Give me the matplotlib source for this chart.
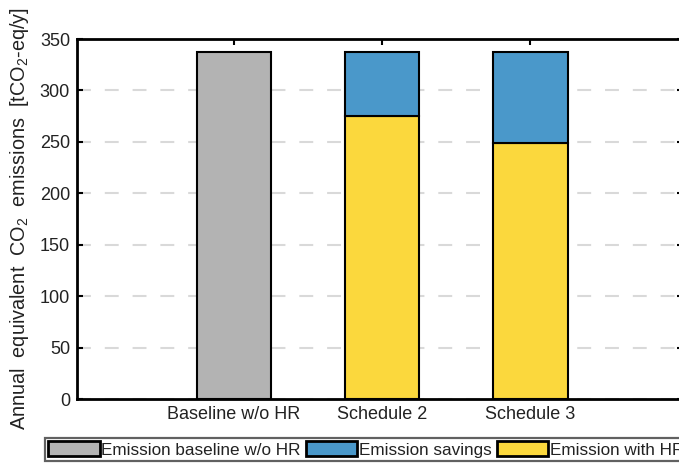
import matplotlib
matplotlib.use("Agg")
import matplotlib.pyplot as plt
from matplotlib.patches import Patch

plt.rcParams['font.family'] = ['Liberation Sans', 'DejaVu Sans']
plt.rcParams['mathtext.fontset'] = 'custom'
plt.rcParams['mathtext.rm'] = 'Liberation Sans'
plt.rcParams['mathtext.it'] = 'Liberation Sans:italic'
plt.rcParams['mathtext.bf'] = 'Liberation Sans:bold'

# Data (tCO2-eq/y)
categories = ["Baseline w/o HR", "Schedule 2", "Schedule 3"]
baseline = [337, 337, 337]
with_hr = [None, 275, 249]
savings = [None, 337 - 275, 337 - 249]
legend_labels = ["Emission baseline w/o HR", "Emission savings", "Emission with HR"]
y_ticks = [0, 50, 100, 150, 200, 250, 300, 350]

c_gray = "#b3b3b3"
c_blue = "#4a98ca"
c_yellow = "#fbd83d"

fig = plt.figure(figsize=(6.79, 4.63), dpi=100)
ax = fig.add_axes([77 / 679, 64 / 463, (683 - 77) / 679, 360 / 463])

x = [1, 2, 3]
w = 0.5
bar_kw = dict(width=w, edgecolor="black", linewidth=1.5, zorder=3)

ax.bar(x[0], baseline[0], color=c_gray, **bar_kw)
for i in (1, 2):
    ax.bar(x[i], with_hr[i], color=c_yellow, **bar_kw)
    ax.bar(x[i], savings[i], bottom=with_hr[i], color=c_blue, **bar_kw)

ax.set_xlim(1 - 1.059, 3 + 1.029)
ax.set_ylim(0, 350)
ax.set_yticks(y_ticks)
ax.set_xticks(x)
ax.set_xticklabels(categories)

ax.yaxis.grid(True, color="#d9d9d9", linewidth=1.5, dashes=(6.67, 6.67), zorder=0)
ax.set_axisbelow(True)

for s in ax.spines.values():
    s.set_linewidth(2.0)
    s.set_color("black")

ax.tick_params(axis="both", direction="in", labelsize=13, labelcolor="#222222",
               width=1.5, length=4.5, color="black")
ax.tick_params(axis="x", bottom=False, top=True, pad=5)
ax.tick_params(axis="y", left=True, right=True, pad=5)

ax.set_ylabel(r"Annual  equivalent  CO$_2$  emissions  [tCO$_2$-eq/y]",
              fontsize=14.3, color="#222222", labelpad=6)

handles = [Patch(facecolor=c_gray, edgecolor="black", linewidth=2),
           Patch(facecolor=c_blue, edgecolor="black", linewidth=2),
           Patch(facecolor=c_yellow, edgecolor="black", linewidth=2)]
leg = fig.legend(handles, legend_labels, loc="lower left",
                 bbox_to_anchor=(45 / 679, 2 / 463), ncol=3, fontsize=12.3,
                 frameon=True, fancybox=False, borderaxespad=0,
                 handlelength=3.0, handleheight=0.95, handletextpad=0.1,
                 columnspacing=0.3, borderpad=0.2)
leg.get_frame().set_edgecolor("#3a3a3a")
leg.get_frame().set_linewidth(1.6)
for t in leg.get_texts():
    t.set_color("#222222")

fig.savefig("out.png", dpi=100)
